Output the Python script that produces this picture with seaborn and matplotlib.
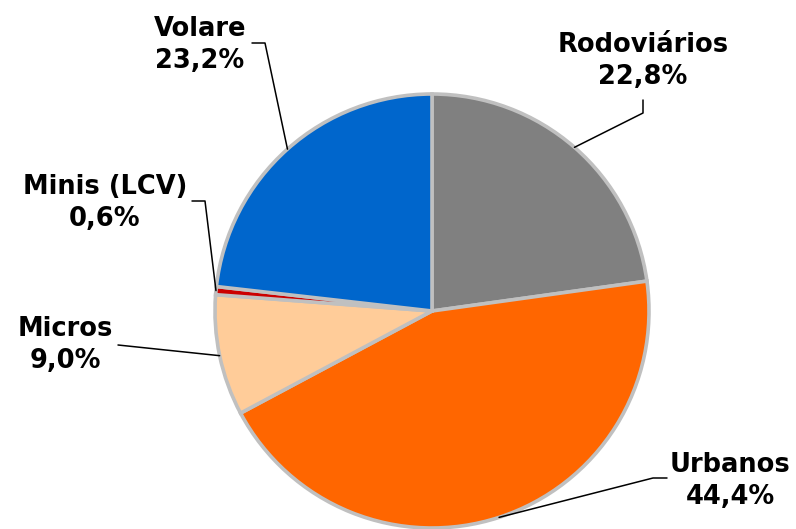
import numpy as np
import seaborn as sns
import matplotlib.pyplot as plt

categories = ["Rodoviários", "Urbanos", "Micros", "Minis (LCV)", "Volare"]
shares = [22.8, 44.4, 9.0, 0.6, 23.2]
labels = ["22,8%", "44,4%", "9,0%", "0,6%", "23,2%"]
colors = ["#808080", "#FF6600", "#FFCC99", "#CC0000", "#0066CC"]

sns.set_theme(style="white")
plt.rcParams['font.family'] = ['DejaVu Sans']

fig = plt.figure(figsize=(7.96, 5.29), dpi=100)
ax = fig.add_axes([0, 0, 1, 1])

cx, cy, r = 432, 218, 217
wedges, _ = ax.pie(shares, colors=colors, startangle=90, counterclock=False,
                   center=(cx, cy), radius=r, frame=True,
                   wedgeprops=dict(edgecolor="#C0C0C0", linewidth=2.6))
ax.set_xlim(0, 796)
ax.set_ylim(0, 529)
ax.set_aspect("equal")
ax.axis("off")

# text position (center), elbow, line end near text
layout = {
    "Rodoviários": ((643, 468), (643, 416), (643, 429)),
    "Urbanos": ((730, 48), (653, 51), (667, 51)),
    "Micros": ((65, 184), (118, 184), (118, 184)),
    "Minis (LCV)": ((105, 326), (205, 328), (192, 328)),
    "Volare": ((200, 484), (265, 486), (252, 486)),
}

for w, cat, lab in zip(wedges, categories, labels):
    ang = np.deg2rad((w.theta1 + w.theta2) / 2)
    px, py = cx + r * np.cos(ang), cy + r * np.sin(ang)
    (tx, ty), (ex, ey), (lx, ly) = layout[cat]
    ax.plot([px, ex, lx], [py, ey, ly], color="black", lw=1.1)
    ax.text(tx, ty, cat + "\n" + lab, ha="center", va="center",
            fontsize=18.5, fontweight="bold", color="black", linespacing=1.35)

fig.savefig("out.png", dpi=100)
